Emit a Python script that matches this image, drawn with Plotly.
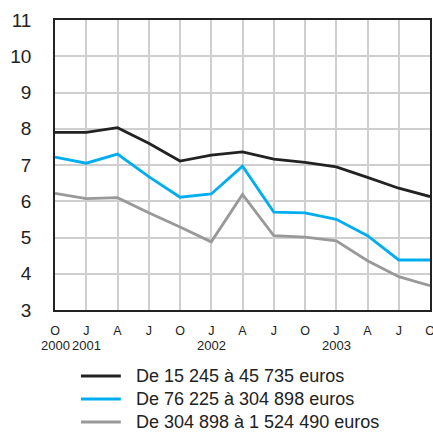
import plotly.graph_objects as go

quarters = ["O", "J", "A", "J", "O", "J", "A", "J", "O", "J", "A", "J", "O"]
years = {0: "2000", 1: "2001", 5: "2002", 9: "2003"}
series_names = ["De 15 245 à 45 735 euros",
                "De 76 225 à 304 898 euros",
                "De 304 898 à 1 524 490 euros"]
small = [7.90, 7.90, 8.03, 7.60, 7.11, 7.27, 7.36, 7.16, 7.07, 6.95, 6.66, 6.36, 6.13]
medium = [7.22, 7.05, 7.30, 6.68, 6.11, 6.20, 6.97, 5.70, 5.68, 5.50, 5.05, 4.38, 4.38]
large = [6.22, 6.07, 6.10, 5.68, 5.29, 4.88, 6.19, 5.05, 5.01, 4.91, 4.36, 3.92, 3.67]
colors = ["#222222", "#00aeef", "#999999"]

x = list(range(len(quarters)))
fig = go.Figure()
for name, vals, c in zip(series_names, [small, medium, large], colors):
    fig.add_trace(go.Scatter(x=x, y=vals, mode="lines", name=name,
                             line=dict(color=c, width=2.8)))

for i, yr in years.items():
    fig.add_annotation(x=i, y=0, xref="x", yref="paper", yshift=-35,
                       yanchor="middle", text=yr, showarrow=False,
                       font=dict(size=13, color="#222"))

# manual legend (layout decoration)
plot_h = 290.0
plot_w = 376.0
for k, (name, c) in enumerate(zip(series_names, colors)):
    yc = -(66 + 23.0 * k) / plot_h
    fig.add_shape(type="line", xref="paper", yref="paper",
                  x0=26 / plot_w, x1=66 / plot_w, y0=yc, y1=yc,
                  line=dict(color=c, width=3))
    fig.add_annotation(x=79 / plot_w, y=yc, xref="paper", yref="paper",
                       xanchor="left", yanchor="middle", text=name,
                       showarrow=False, font=dict(size=18, color="#222"))

fig.update_layout(
    width=433, height=435,
    margin=dict(l=55, r=3, t=20, b=125),
    plot_bgcolor="white", paper_bgcolor="white",
    font=dict(family="Liberation Sans, Arial, sans-serif", color="#222"),
    showlegend=False,
    xaxis=dict(range=[0, 12], tickmode="array", tickvals=x, ticktext=quarters,
               showgrid=True, gridcolor="#cfcfcf", gridwidth=1.5,
               showline=True, linecolor="#222", linewidth=1.5, mirror=True,
               tickfont=dict(size=12.5), ticks="", ticklabelstandoff=8,
               ticklabeloverflow="allow",
               zeroline=False, automargin=False),
    yaxis=dict(range=[3, 11], dtick=1, showgrid=True, gridcolor="#cfcfcf",
               gridwidth=1.5, showline=True, linecolor="#222", linewidth=1.5,
               mirror=True, tickfont=dict(size=19), ticks="",
               ticklabelstandoff=18, zeroline=False, automargin=False),
)
fig.write_html(
    "out.html",
    config={"displayModeBar": False},
    post_script="document.body.style.margin='0';"
                "document.body.style.overflow='hidden';",
)
